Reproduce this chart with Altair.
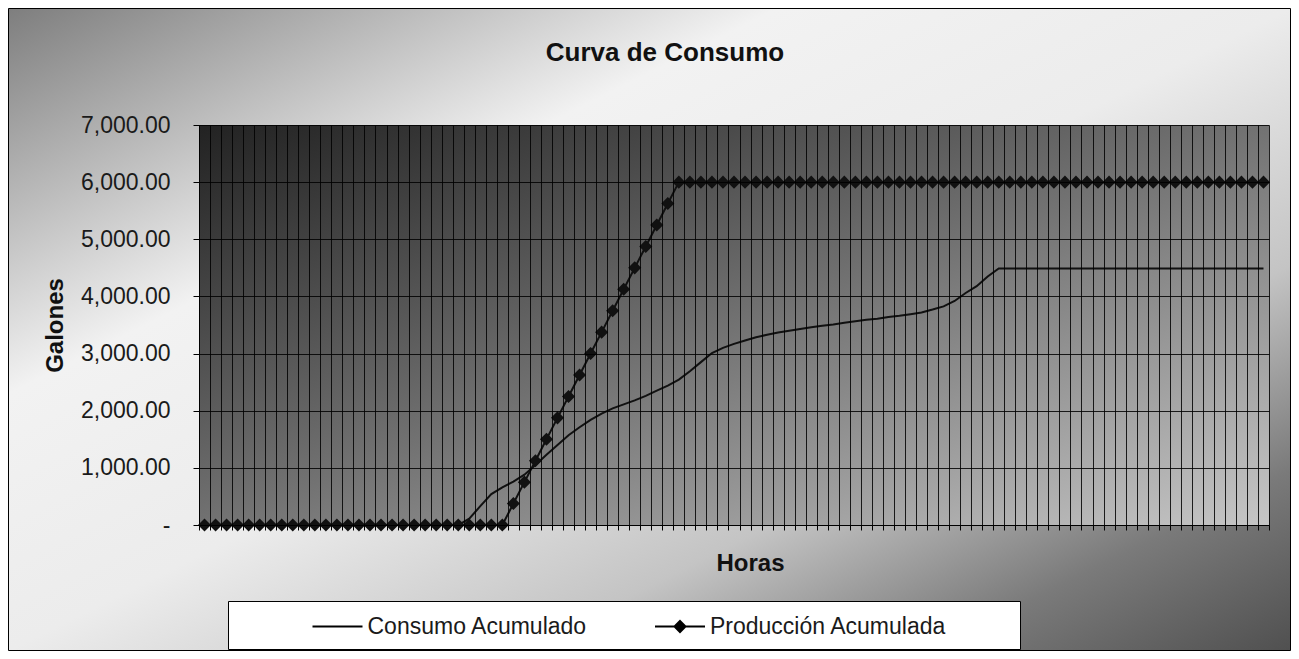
import altair as alt
import pandas as pd

FONT = "Liberation Sans"

# 97 quarter-hour steps (0:00 ... 24:00)
intervalos = list(range(97))

consumo = [
    0, 0, 0, 0, 0, 0, 0, 0, 0, 0, 0, 0, 0, 0, 0, 0, 0, 0, 0, 0, 0, 0, 0, 0,
    110, 330, 540, 660, 760, 880, 1050, 1230, 1400, 1570, 1710, 1840, 1950,
    2040, 2110, 2180, 2260, 2350, 2440, 2545, 2690, 2850, 3010, 3100, 3170,
    3230, 3285, 3330, 3370, 3400, 3430, 3460, 3485, 3510, 3540, 3565, 3590,
    3610, 3640, 3660, 3690, 3720, 3770, 3825, 3920, 4060, 4180, 4350, 4490,
    4490, 4490, 4490, 4490, 4490, 4490, 4490, 4490, 4490, 4490, 4490, 4490,
    4490, 4490, 4490, 4490, 4490, 4490, 4490, 4490, 4490, 4490, 4490, 4490,
]

produccion = [
    0, 0, 0, 0, 0, 0, 0, 0, 0, 0, 0, 0, 0, 0, 0, 0, 0, 0, 0, 0, 0, 0, 0, 0,
    0, 0, 0, 0,
    375, 750, 1125, 1500, 1875, 2250, 2625, 3000, 3375, 3750, 4125, 4500,
    4875, 5250, 5625, 6000,
    6000, 6000, 6000, 6000, 6000, 6000, 6000, 6000, 6000, 6000, 6000, 6000,
    6000, 6000, 6000, 6000, 6000, 6000, 6000, 6000, 6000, 6000, 6000, 6000,
    6000, 6000, 6000, 6000, 6000, 6000, 6000, 6000, 6000, 6000, 6000, 6000,
    6000, 6000, 6000, 6000, 6000, 6000, 6000, 6000, 6000, 6000, 6000, 6000,
    6000, 6000, 6000, 6000, 6000,
]

series = ["Consumo Acumulado", "Producción Acumulada"]
y_ticks = [0, 1000, 2000, 3000, 4000, 5000, 6000, 7000]

df = pd.DataFrame({
    "intervalo": intervalos + intervalos,
    "galones": consumo + produccion,
    "serie": [series[0]] * len(intervalos) + [series[1]] * len(intervalos),
})

W, H = 1070, 400
grid_vals = [i - 0.5 for i in range(len(intervalos) + 1)]

outer_grad = {
    "gradient": "linear", "x1": 0, "y1": 0, "x2": 1, "y2": 1,
    "stops": [
        {"offset": 0.0, "color": "#7e7e7e"},
        {"offset": 0.3, "color": "#f2f2f2"},
        {"offset": 0.5, "color": "#ececec"},
        {"offset": 0.7, "color": "#c4c4c4"},
        {"offset": 0.86, "color": "#7a7a7a"},
        {"offset": 1.0, "color": "#505050"},
    ],
}
inner_grad = {
    "gradient": "linear", "x1": 0, "y1": 0, "x2": 1, "y2": 1,
    "stops": [
        {"offset": 0.0, "color": "#222222"},
        {"offset": 0.5, "color": "#727272"},
        {"offset": 1.0, "color": "#c6c6c6"},
    ],
}

one = alt.Data(values=[{}])

bg = alt.Chart(one).mark_rect(fill=outer_grad, stroke="black", strokeWidth=1).encode(
    x=alt.value(-190.5), x2=alt.value(W + 21.5), y=alt.value(-116.5), y2=alt.value(H + 125.5)
)
plot_bg = alt.Chart(one).mark_rect(fill=inner_grad).encode(
    x=alt.value(0), x2=alt.value(W), y=alt.value(0), y2=alt.value(H)
)
legend_box = alt.Chart(one).mark_rect(fill="white", stroke="black", strokeWidth=1).encode(
    x=alt.value(29.5), x2=alt.value(821.5), y=alt.value(476.5), y2=alt.value(524.5)
)
title_txt = alt.Chart(one).mark_text(
    text="Curva de Consumo", font=FONT, fontSize=26, fontWeight="bold",
    color="#111111", align="center", baseline="middle"
).encode(x=alt.value(466), y=alt.value(-72))

base = alt.Chart(df).encode(
    x=alt.X(
        "intervalo:Q",
        scale=alt.Scale(domain=[-0.5, 96.5], nice=False, zero=False),
        axis=alt.Axis(
            values=grid_vals, labels=False, tickSize=5, tickColor="black",
            domainColor="black", grid=True, gridColor="black", gridOpacity=0.85,
            title="Horas", titleFont=FONT, titleFontSize=24, titleFontWeight="bold",
            titleColor="#111111", titleX=551, titleY=38, titleAlign="center",
            titleBaseline="middle", zindex=1,
        ),
    ),
    y=alt.Y(
        "galones:Q",
        scale=alt.Scale(domain=[0, 7000], nice=False),
        axis=alt.Axis(
            values=y_ticks,
            labelExpr="datum.value == 0 ? '-\u00a0\u00a0\u00a0' : format(datum.value, ',.2f')",
            labelFont=FONT, labelFontSize=23, labelColor="#1a1a1a", labelPadding=23,
            tickSize=6, tickColor="black", domainColor="black",
            grid=True, gridColor="black", gridOpacity=0.85,
            title="Galones", titleFont=FONT, titleFontSize=24, titleFontWeight="bold",
            titleColor="#111111", titleX=-144, titleY=200, titleAngle=270,
            titleAlign="center", titleBaseline="middle", zindex=1,
        ),
    ),
)

cons_line = base.transform_filter(alt.datum.serie == series[0]).mark_line(
    color="#111111", strokeWidth=2
)
prod_line = base.transform_filter(alt.datum.serie == series[1]).mark_line(
    color="#111111", strokeWidth=2
)
prod_pts = base.transform_filter(alt.datum.serie == series[1]).mark_point(
    shape="diamond", filled=True, size=170, color="#111111", opacity=1
)

diamond_path = (
    "M-1,0L1,0"
    "M0,-0.22L0.22,0L0,0.22L-0.22,0Z"
    "M0,-0.14L0.14,0L0,0.14L-0.14,0Z"
    "M0,-0.07L0.07,0L0,0.07L-0.07,0Z"
)

legend_proxy = base.mark_point(filled=False, opacity=0, color="black").encode(
    shape=alt.Shape(
        "serie:N",
        scale=alt.Scale(domain=series, range=["M-1,0L1,0", diamond_path]),
        legend=alt.Legend(
            orient="none", legendX=112.5, legendY=475.5, direction="horizontal",
            title=None, symbolSize=2500, symbolStrokeColor="black",
            symbolFillColor="black", symbolStrokeWidth=2, symbolOpacity=1,
            labelFont=FONT, labelFontSize=23, labelColor="#1a1a1a",
            labelLimit=400, labelOffset=4, columnPadding=63.5, padding=0, zindex=1,
        ),
    )
)

chart = alt.layer(
    bg, plot_bg, legend_box, title_txt, cons_line, prod_line, prod_pts, legend_proxy
).properties(
    width=W, height=H,
    padding={"left": 191, "top": 117, "right": 22, "bottom": 126},
    autosize=alt.AutoSizeParams(type="none"),
).configure_view(stroke=None)

chart.save("out.html", embed_options={"renderer": "svg", "actions": False})
